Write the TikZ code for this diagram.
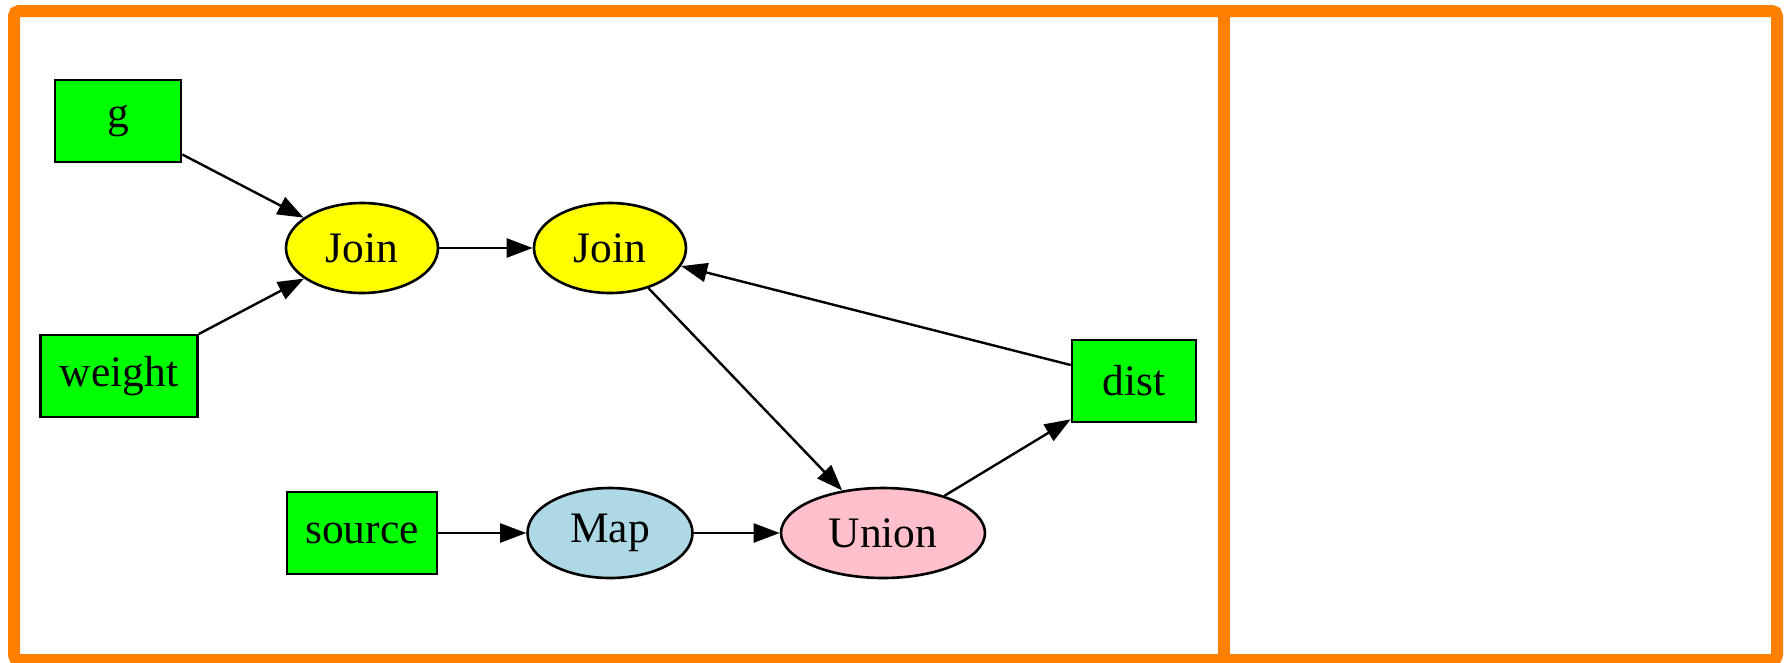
\documentclass[tikz,border=0pt]{standalone}
\usepackage{fontspec}
\setmainfont{Liberation Serif}
\usetikzlibrary{arrows.meta,shapes.geometric}

\definecolor{framecol}{RGB}{255,128,0}
\definecolor{srcgreen}{RGB}{0,255,0}
\definecolor{joinyellow}{RGB}{255,255,0}
\definecolor{maplightblue}{RGB}{173,216,230}
\definecolor{unionpink}{RGB}{255,192,203}

\tikzset{
  base/.style={draw=black, line width=2.6pt, inner sep=0pt,
               font=\fontsize{43.5}{50}\selectfont, text=black},
  srcbox/.style={base, rectangle, fill=srcgreen, minimum height=82pt},
  opnode/.style={base, ellipse, minimum height=90pt},
  flow/.style={draw=black, line width=2.4pt, -{Triangle[length=26pt,width=19pt]}},
  frameline/.style={draw=framecol, line width=12pt}
}

\begin{document}
\begin{tikzpicture}[x=1pt,y=-1pt]
  \useasboundingbox (0,0) rectangle (1789,662);

  % outer frame and its divider
  \draw[frameline, rounded corners=5pt] (14,11) rectangle (1777,660);
  \draw[frameline] (1224,11) -- (1224,660);

  % source tables
  \node[srcbox, minimum width=126pt] (g)      at (118,121) {g};
  \node[srcbox, minimum width=157pt] (weight) at (119,376) {weight};
  \node[srcbox, minimum width=150pt] (source) at (362,533) {source};
  \node[srcbox, minimum width=124pt] (dist)   at (1134,381) {dist};

  % operators
  \node[opnode, fill=joinyellow, minimum width=152pt]   (join1) at (362,248) {Join};
  \node[opnode, fill=joinyellow, minimum width=152pt]   (join2) at (610,248) {Join};
  \node[opnode, fill=maplightblue, minimum width=165pt] (map)   at (610,533) {Map};
  \node[opnode, fill=unionpink, minimum width=204pt]    (union) at (883,533) {Union};

  % data flow
  \draw[flow] (g) -- (join1);
  \draw[flow] (weight) -- (join1);
  \draw[flow] (join1) -- (join2);
  \draw[flow] (join2) -- (union);
  \draw[flow] (dist) -- (join2);
  \draw[flow] (source) -- (map);
  \draw[flow] (map) -- (union);
  \draw[flow] (union) -- (dist);
\end{tikzpicture}
\end{document}
